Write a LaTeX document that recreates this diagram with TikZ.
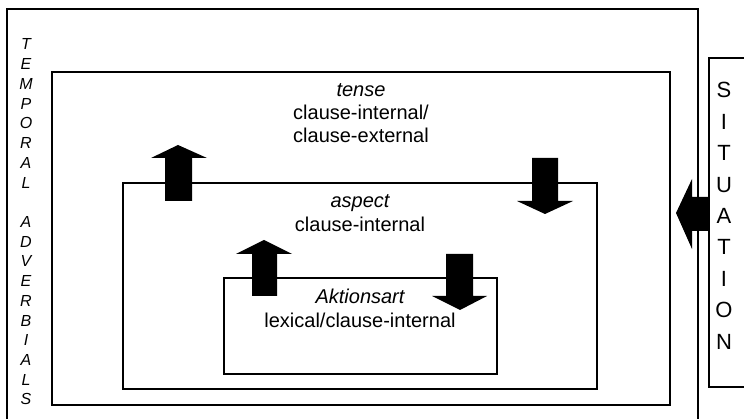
\documentclass[tikz,border=0pt]{standalone}
\usepackage{fontspec}
\setmainfont{Liberation Sans}
\begin{document}
\begin{tikzpicture}[x=1pt,y=-1pt,
  box/.style={draw=black,line width=1.5pt},
  blockarrow/.style={fill=black},
  lbl/.style={font=\fontsize{20}{23}\selectfont, anchor=base, inner sep=0pt},
  vlet/.style={font=\fontsize{16}{19}\selectfont\itshape, anchor=base, inner sep=0pt},
  slet/.style={font=\fontsize{22}{26}\selectfont, anchor=base, inner sep=0pt}]
\useasboundingbox (0,0) rectangle (744,419);
\begin{scope}
\clip (0,0) rectangle (744,419);
\draw[box] (7,9) rectangle (698,430);
\draw[box] (709,58) rectangle (760,387);
\end{scope}
% nested boxes
\draw[box] (52,72) rectangle (670,405);
\draw[box] (123,183) rectangle (597,389);
\draw[box] (224,278) rectangle (497,374);
% labels
\node[lbl] (tense) at (361,97) {\itshape tense};
\node[lbl] (tensea) at (361,120) {clause-internal/};
\node[lbl] (tenseb) at (361,143) {clause-external};
\node[lbl] (aspect) at (360,208) {\itshape aspect};
\node[lbl] (aspecta) at (360,232) {clause-internal};
\node[lbl] (akt) at (360,304) {\itshape Aktionsart};
\node[lbl] (akta) at (360,328) {lexical/clause-internal};
% vertical texts
\foreach \l [count=\i] in {T,E,M,P,O,R,A,L,{},A,D,V,E,R,B,I,A,L,S}
  \node[vlet] (tmp\i) at (26,{50+19.72*(\i-1)}) {\l};
\foreach \l [count=\i] in {S,I,T,U,A,T,I,O,N}
  \node[slet] (sit\i) at (724,{98+31.4*(\i-1)}) {\l};
% block arrows
\fill[blockarrow] (165,201) -- (165,158) -- (151,158) -- (178,145) -- (207,158) -- (192,158) -- (192,201) -- cycle;
\fill[blockarrow] (532,158) -- (532,201) -- (517,201) -- (545,214) -- (573,201) -- (558,201) -- (558,158) -- cycle;
\fill[blockarrow] (252,296) -- (252,254) -- (236,254) -- (264,240) -- (292,254) -- (277,254) -- (277,296) -- cycle;
\fill[blockarrow] (446,254) -- (446,296) -- (432,296) -- (460,310) -- (487,296) -- (473,296) -- (473,254) -- cycle;
\fill[blockarrow] (709,197) -- (692,197) -- (692,179) -- (676,213) -- (692,249) -- (692,231) -- (709,231) -- cycle;
\end{tikzpicture}
\end{document}
